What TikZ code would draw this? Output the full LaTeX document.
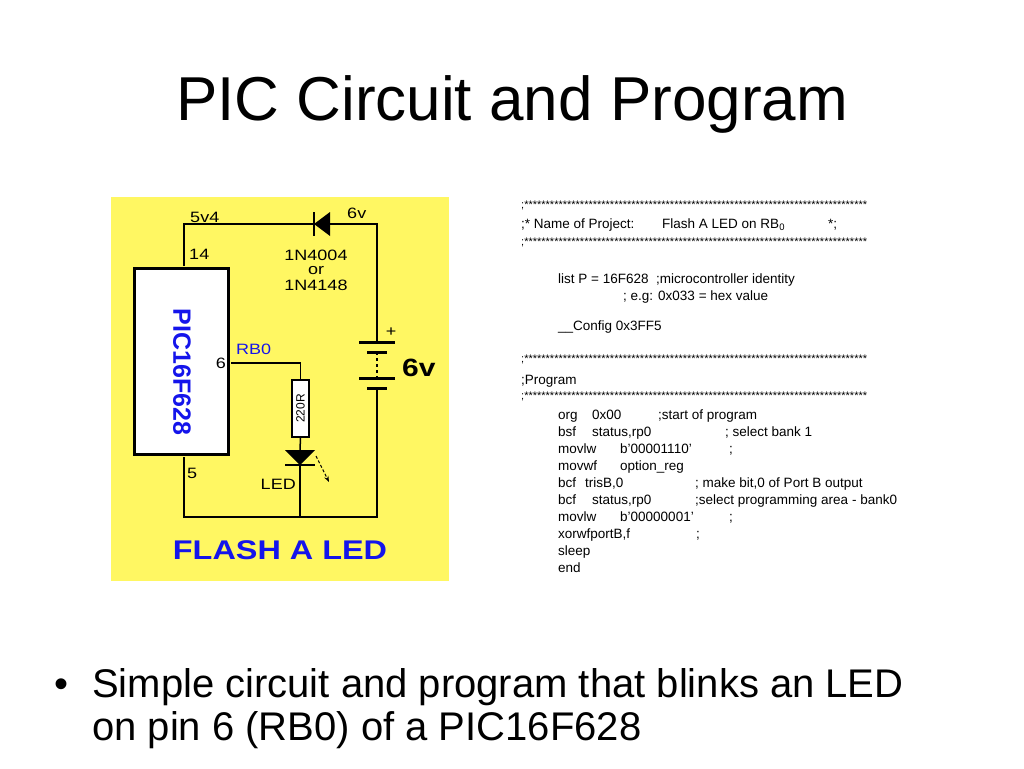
\documentclass[tikz,border=0pt]{standalone}
\usepackage{fontspec}
\setmainfont{Liberation Sans}
\usetikzlibrary{arrows.meta}
\definecolor{padyellow}{RGB}{255,247,98}
\definecolor{chipblue}{RGB}{20,20,235}
\newcommand{\starrow}{;\hbox to 343pt{\xleaders\hbox{*}\hfill}}
\tikzset{
  wire/.style={line width=1.5pt},
  clbl/.style={inner sep=0pt, font=\fontsize{15}{15}\selectfont, xscale=1.2, transform shape},
  code/.style={anchor=base west, inner sep=0pt, font=\fontsize{13.5}{13.5}\selectfont},
  stars/.style={anchor=west, inner sep=0pt, font=\fontsize{11}{11}\selectfont},
  slide/.style={anchor=base west, inner sep=0pt, font=\fontsize{40}{40}\selectfont}
}
\begin{document}
\begin{tikzpicture}[x=1pt, y=-1pt]
  \useasboundingbox[fill=white] (0,0) rectangle (1024,768);
  % title
  \node[anchor=base, font=\fontsize{62}{62}\selectfont] (title) at (512,120) {PIC Circuit and Program};
  % circuit panel
  \fill[padyellow] (111,197) rectangle (449,581);
  \node[draw, line width=3.5pt, fill=white, minimum width=94pt, minimum height=186pt] (chip) at (181.5,361.5) {};
  \node[rotate=-90, text=chipblue, font=\bfseries\fontsize{25}{25}\selectfont] (chipname) at (182,372) {PIC16F628};
  \coordinate (p14) at (184,266);
  \coordinate (p6) at (231,363);
  \coordinate (p5) at (184,457);
  \coordinate (dk) at (314,224);
  \coordinate (da) at (330,224);
  \coordinate (bt) at (377,342);
  \coordinate (bb) at (377,388);
  \coordinate (la) at (300,450);
  \coordinate (lk) at (300,465);
  \coordinate (bl) at (184,517);
  \coordinate (br) at (377,517);
  \node[draw, line width=1.2pt, fill=white, minimum width=17pt, minimum height=57pt, inner sep=0pt] (res) at (300.5,408.5) {};
  \node[rotate=90, font=\fontsize{12}{12}\selectfont] (reslbl) at (300.5,408.5) {220R};
  % wires
  \draw[wire] (p14) |- (dk);
  \draw[wire] (da) -| (bt);
  \draw[wire] (p6) -| (res.north);
  \draw[wire] (res.south) -- (la);
  \draw[wire] (p5) -- (bl) -- (br) -- (bb);
  \draw[wire] (lk) -- (lk |- bl);
  % diode
  \fill (dk) -- (da |- 0,212) -- (da |- 0,236) -- cycle;
  \draw[line width=2pt] (dk |- 0,212) -- (dk |- 0,236);
  % led
  \fill (la) ++(-15,0) -- ++(30,0) -- (lk) -- cycle;
  \draw[line width=2pt] (lk) ++(-15,0) -- ++(30,0);
  \draw[line width=1pt, densely dashed, -{Stealth[length=6pt]}] (316,456) -- (329,482);
  % battery
  \draw[line width=3pt] (bt) ++(-18,0) -- ++(36,0);
  \draw[line width=3pt] (bt) ++(-10,10) -- ++(20,0);
  \draw[wire, dashed] (377,352) -- (377,378);
  \draw[line width=3pt] (bb) ++(-18,-10) -- ++(36,0);
  \draw[line width=3pt] (bb) ++(-10,0) -- ++(20,0);
  % labels
  \node[clbl, anchor=base west] (l5v4) at (190,222) {5v4};
  \node[clbl, anchor=base west] (l6v) at (347,218) {6v};
  \node[clbl, anchor=base west] (l14) at (189,259) {14};
  \node[clbl, anchor=base west] (l5) at (187,478) {5};
  \node[clbl, anchor=base east] (l6) at (226,368) {6};
  \node[clbl, anchor=base west, text=chipblue] (lrb) at (236,354) {RB0};
  \node[clbl, anchor=base] (ld1) at (316,260) {1N4004};
  \node[clbl, anchor=base] (ld2) at (316,274) {or};
  \node[clbl, anchor=base] (ld3) at (316,290) {1N4148};
  \node[clbl, anchor=base] (lplus) at (391,336) {+};
  \node[clbl, anchor=base west, font=\bfseries\fontsize{25}{25}\selectfont] (lbat) at (402,376) {6v};
  \node[clbl, anchor=base east] (lled) at (296,489) {LED};
  \node[clbl, anchor=base, text=chipblue, font=\bfseries\fontsize{27}{27}\selectfont] (flash) at (280,559) {FLASH A LED};
  % program listing
  \node[stars] (s1) at (521,205) {\starrow};
  \node[code] (h1) at (521,228) {;* Name of Project:};
  \node[code] (h2) at (662,228) {Flash A LED on RB\textsubscript{0}};
  \node[code] (h3) at (828,228) {*;};
  \node[stars] (s2) at (521,242) {\starrow};
  \node[stars] (s3) at (521,359) {\starrow};
  \node[code] (prog) at (521,384) {;Program};
  \node[stars] (s4) at (521,396) {\starrow};
  \foreach \x/\y/\t [count=\i] in {
      558/283/{list P = 16F628\ \ ;microcontroller identity},
      623/300/{; e.g: 0x033 = hex value},
      558/330/{\_\_Config 0x3FF5},
      558/419/org, 592/419/0x00, 658/419/{;start of program},
      558/436/bsf, 592/436/{status,rp0}, 725/436/{; select bank 1},
      558/453/movlw, 620/453/{b'00001110'}, 729/453/{;},
      558/470/movwf, 620/470/{option\_reg},
      558/487/bcf, 585/487/{trisB,0}, 695/487/{; make bit,0 of Port B output},
      558/504/bcf, 592/504/{status,rp0}, 695/504/{;select programming area - bank0},
      558/521/movlw, 620/521/{b'00000001'}, 729/521/{;},
      558/538/{xorwfportB,f}, 696/538/{;},
      558/555/sleep,
      558/572/end}
    \node[code] (c\i) at (\x,\y) {\t};
  % bullet
  \node[slide] (dot) at (54,697) {•};
  \node[slide] (b1) at (92,697) {Simple circuit and program that blinks an LED};
  \node[slide] (b2) at (92,740) {on pin 6 (RB0) of a PIC16F628};
\end{tikzpicture}
\end{document}
